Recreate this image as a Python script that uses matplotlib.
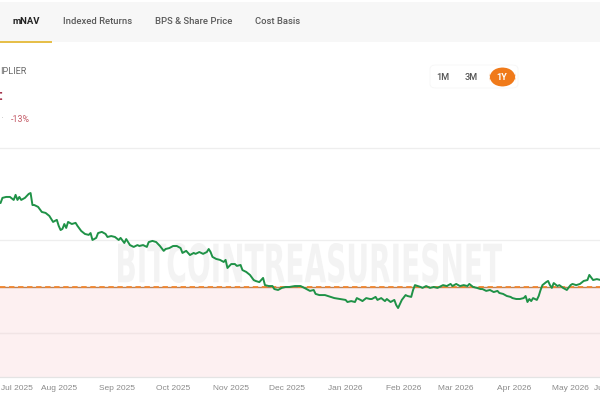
import datetime as dt
import matplotlib
matplotlib.use("Agg")
import matplotlib.pyplot as plt
import matplotlib.dates as mdates
from matplotlib.patches import Rectangle, FancyBboxPatch, PathPatch
from matplotlib.textpath import TextPath
from matplotlib.font_manager import FontProperties
from matplotlib.transforms import Affine2D, blended_transform_factory

# ---------------- data ----------------
start_date = dt.date(2025, 8, 1)
day_offsets = [-34, -31, -30, -28, -26, -24, -23, -22, -21, -20, -18, -16, -15, -14, -13, -11, -9, -7, -5, -3, -1,
               0, 1, 2, 3, 4, 5, 7, 9, 10, 12, 14, 16, 17, 18, 20, 21, 23, 25, 26, 28, 30, 32, 33, 35, 36, 38, 40,
               42, 43, 45, 47, 48, 50, 52, 54, 56, 57, 59, 61, 63, 65, 66, 68, 70, 72, 73, 75, 77, 79, 80, 81, 82,
               84, 86, 88, 89, 90, 92, 94, 95, 97, 98, 100, 102, 104, 105, 107, 109, 110, 112, 114, 115, 117, 119,
               121, 123, 126, 129, 131, 134, 136, 137, 139, 142, 145, 147, 150, 153, 154, 156, 158, 159, 161, 162,
               164, 166, 167, 169, 170, 172, 174, 175, 177, 179, 180, 181, 183, 185, 186, 188, 189, 190, 193, 194,
               196, 198, 200, 202, 203, 205, 207, 209, 210, 212, 214, 216, 218, 219, 221, 223, 225, 226, 228, 230,
               232, 234, 235, 237, 239, 241, 242, 244, 246, 248, 249, 250, 251, 252, 253, 255, 256, 257, 258, 260,
               261, 262, 263, 264, 266, 267, 269, 271, 273, 274, 276, 278, 280, 282, 283, 285, 287, 289, 292]
mnav = [1.357, 1.361, 1.383, 1.387, 1.387, 1.374, 1.396, 1.374, 1.387, 1.374, 1.383, 1.400, 1.404, 1.352, 1.352,
        1.344, 1.322, 1.318, 1.305, 1.279, 1.288,
        1.262, 1.244, 1.249, 1.270, 1.253, 1.279, 1.270, 1.275, 1.262, 1.240, 1.227, 1.223, 1.231, 1.201, 1.210,
        1.231, 1.236, 1.227, 1.214, 1.218, 1.214, 1.201, 1.210, 1.188, 1.205, 1.179, 1.171,
        1.179, 1.175, 1.179, 1.171, 1.192, 1.197, 1.192, 1.175, 1.154, 1.162, 1.166, 1.175, 1.175, 1.166, 1.145,
        1.154, 1.136, 1.145, 1.141, 1.149, 1.141, 1.149, 1.162, 1.149, 1.128,
        1.119, 1.115, 1.106, 1.115, 1.080, 1.097, 1.097, 1.089, 1.093, 1.071, 1.063, 1.050, 1.028, 1.024, 1.019,
        1.037, 1.006, 1.002, 1.002, 0.989, 0.985, 0.994,
        0.998, 0.998, 1.002, 1.002, 0.994, 0.981, 0.985, 0.968, 0.963, 0.963, 0.955, 0.950, 0.946, 0.942, 0.933,
        0.937, 0.933, 0.950, 0.942, 0.937,
        0.950, 0.946, 0.946, 0.955, 0.942, 0.950, 0.937, 0.946, 0.933, 0.942, 0.920, 0.907, 0.942, 0.963, 0.959,
        0.955, 0.985, 1.006, 0.998, 0.994,
        1.002, 0.994, 0.998, 0.994, 0.998, 1.006, 1.002, 1.011, 1.002, 1.011, 1.002, 1.006, 1.002, 1.011, 0.998,
        0.994, 0.989, 0.989, 0.981, 0.985,
        0.976, 0.981, 0.972, 0.968, 0.959, 0.955, 0.950, 0.946, 0.946, 0.950, 0.959, 0.933, 0.946, 0.937, 0.950,
        0.942, 0.959, 0.985, 1.006, 1.019,
        1.024, 1.006, 0.994, 1.015, 1.002, 1.006, 0.994, 0.985, 1.006, 1.011, 1.006, 1.011, 1.024, 1.028, 1.050,
        1.028, 1.032, 1.028, 1.024]
dates = [start_date + dt.timedelta(days=d) for d in day_offsets]

threshold = 1.0
grid_values = [0.8, 1.2, 1.6]
month_ticks = [dt.date(2025, m, 1) for m in range(7, 13)] + [dt.date(2026, m, 1) for m in range(1, 6)]
last_month = dt.date(2026, 6, 1)
tabs = ["mNAV", "Indexed Returns", "BPS & Share Price", "Cost Basis"]
tab_x = [26, 98, 194, 278]
ranges = ["1M", "3M", "1Y"]
range_x = [443, 471, 502]
change_text = "-13%"
watermark = "BITCOINTREASURIESNET"

# ---------------- figure ----------------
W, H = 600, 400
fig = plt.figure(figsize=(6, 4), dpi=100)
fig.patch.set_facecolor("white")

def fx(px):
    return px / W

def fy(py):
    return 1 - py / H

ax_top, ax_bot = 140, 377
ax = fig.add_axes([0, fy(ax_bot), 1, (ax_bot - ax_top) / H])
x0 = mdates.date2num(start_date)
for s in ["top", "right", "left"]:
    ax.spines[s].set_visible(False)
ax.spines["bottom"].set_color("#e4e4e4")
ax.spines["bottom"].set_linewidth(0.9)
ax.set_yticks([])
for g in grid_values:
    ax.axhline(g, color="#eeeeee", lw=0.9, zorder=1)
ax.axhspan(0.609, threshold, color="#fdf0f1", lw=0, zorder=0)
ax.axhline(0.8, color="#f1e4e5", lw=0.9, zorder=1)

# watermark
fp = FontProperties(family="DejaVu Sans", weight="bold")
tp = TextPath((0, 0), watermark, size=1, prop=fp)
ext = tp.get_extents()
wx0, wx1, wy0, wy1 = 118, 502, 243, 283
sx = (fx(wx1) - fx(wx0)) / ext.width
sy = ((wy1 - wy0) / (ax_bot - ax_top)) / ext.height
tr = Affine2D().translate(-ext.x0, -ext.y0).scale(sx, sy).translate(fx(wx0), (ax_bot - wy1) / (ax_bot - ax_top))
ax.add_patch(PathPatch(tp, transform=tr + ax.transAxes, facecolor="#f3f3f3", edgecolor="none", zorder=2))

# threshold dashed line
ax.axhline(threshold, color="#b9825a", lw=1.0, zorder=3)
ax.axhline(threshold, color="#f0862f", lw=1.3, dashes=(3, 2), zorder=3)

# mNAV line
ax.plot(dates, mnav, color="#1f9247", lw=1.4, zorder=4, solid_joinstyle="round")

ax.set_xticks(month_ticks)
ax.xaxis.set_major_formatter(mdates.DateFormatter("%b %Y"))
ax.set_xlim(x0 - 31.31, x0 + 288.69)
ax.set_ylim(0.609, 1.633)
ax.tick_params(axis="x", length=0, pad=6, labelsize=6.0, labelcolor="#8a8a8a")
for lbl in ax.get_xticklabels():
    lbl.set_family("Liberation Sans")
ax.get_xticklabels()[0].set_horizontalalignment("left")
# last month label, right-aligned on its date, runs past the visible edge
btr = blended_transform_factory(ax.transData, ax.transAxes)
ax.text(mdates.date2num(last_month), 0, last_month.strftime("%b %Y"), transform=btr, ha="right", va="top",
        fontsize=6.0, family="Liberation Sans", color="#8a8a8a", clip_on=False)
ax.texts[-1].set_position((mdates.date2num(last_month), -8.3 / (ax_bot - ax_top)))

# ---------------- header ----------------
fig.patches.append(Rectangle((0, fy(42)), 1, fy(2) - fy(42), transform=fig.transFigure,
                             facecolor="#f7f7f7", edgecolor="none", zorder=0))
fig.patches.append(Rectangle((0, fy(42.5)), fx(52), 1.6 / H, transform=fig.transFigure,
                             facecolor="#e6bf4a", edgecolor="none", zorder=1))
for i, (t, x) in enumerate(zip(tabs, tab_x)):
    fig.text(fx(x), fy(22), t, ha="center", va="center", fontsize=6.8, family="Roboto",
             weight="bold" if i == 0 else "medium", color="#222222" if i == 0 else "#5a5a5a")

fig.text(fx(0), fy(71), "IPLIER", ha="left", va="center", fontsize=6.6, family="Roboto",
         color="#6a6a6a")
fig.text(fx(-1.5), fy(96), ":", ha="left", va="center", fontsize=11, family="Roboto",
         weight="bold", color="#9b1c37")
fig.text(fx(1), fy(119), "·", ha="left", va="center", fontsize=6.5, color="#bbbbbb")
fig.text(fx(11), fy(119), change_text, ha="left", va="center", fontsize=6.4, family="Roboto",
         color="#c45a66")

# range buttons
fig.patches.append(FancyBboxPatch((fx(430), fy(88)), fx(88), (88 - 65) / H,
                                  boxstyle="round,pad=0,rounding_size=0.01", transform=fig.transFigure,
                                  facecolor="white", edgecolor="#f6f6f6", lw=0.6, zorder=1))
fig.patches.append(FancyBboxPatch((fx(489), fy(86.5)), fx(27), 19 / H,
                                  boxstyle="round,pad=0,rounding_size=0.024", transform=fig.transFigure,
                                  mutation_aspect=1.5,
                                  facecolor="#f07a1a", edgecolor="none", zorder=2))
for r, x in zip(ranges, range_x):
    sel = r == "1Y"
    fig.text(fx(x), fy(77), r, ha="center", va="center", fontsize=6.6, family="Roboto",
             weight="bold" if sel else "medium", color="white" if sel else "#555555", zorder=3)

fig.savefig("out.png", dpi=100)
